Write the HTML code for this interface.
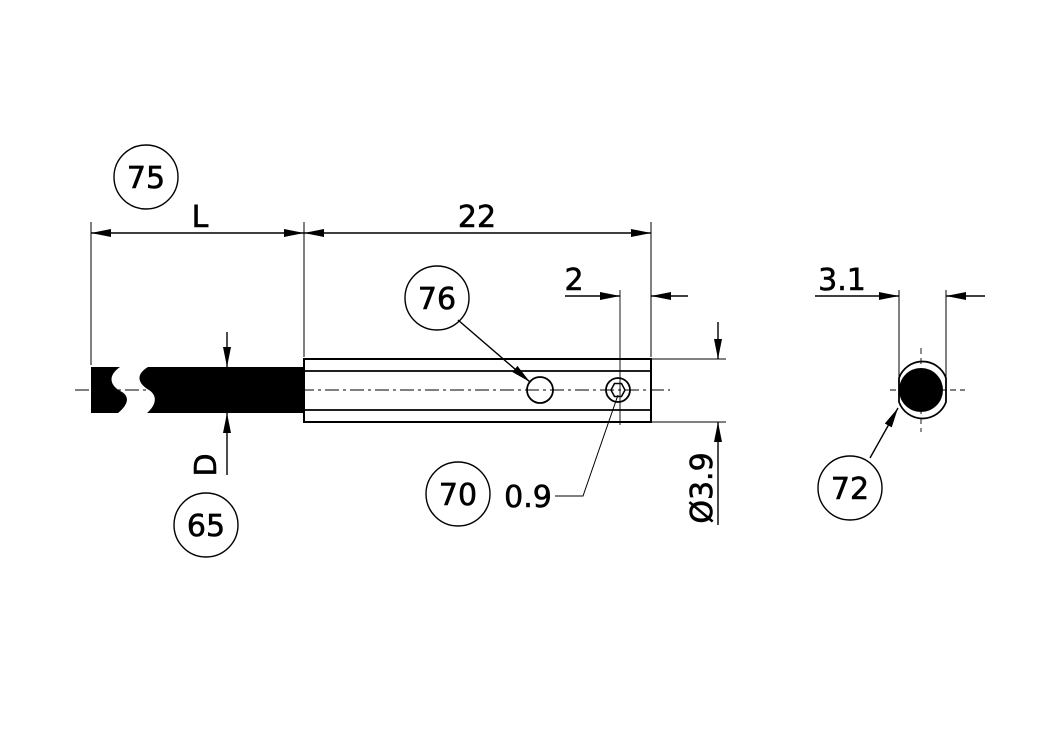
<!DOCTYPE html><html><head><style>body{margin:0;background:#fff}</style></head><body>
<svg width="1050" height="748" viewBox="0 0 1050 748" xmlns="http://www.w3.org/2000/svg" font-family="DejaVu Sans, Liberation Sans, sans-serif">
<defs><marker id="a" viewBox="0 0 10 4" refX="10" refY="2" markerWidth="20" markerHeight="8" markerUnits="userSpaceOnUse" orient="auto"><path d="M0,0L10,2L0,4z" fill="#000"/></marker></defs>
<g stroke="#000" fill="none" stroke-width="1.4">
<line x1="75" y1="390" x2="670" y2="390" stroke-dasharray="14,4,3,4" stroke-width="0.9"/>
<line x1="890" y1="390" x2="965" y2="390" stroke-dasharray="6,4" stroke-width="0.9"/>
<line x1="921" y1="348" x2="921" y2="432" stroke-dasharray="6,4" stroke-width="0.9"/>
<line x1="620" y1="290" x2="620" y2="425" stroke-width="0.9"/>
<path d="M91,367H120C107,376 110,386 122,392C130,397 128,405 118,413H91Z" fill="#000" stroke="none"/>
<path d="M148,367H304V413H147C156,405 158,396 149,390C137,383 136,374 148,367Z" fill="#000" stroke="none"/>
<rect x="304" y="359" width="347" height="63" stroke-width="2"/>
<line x1="304" y1="371" x2="651" y2="371" stroke-width="1.8"/>
<line x1="304" y1="410" x2="651" y2="410" stroke-width="1.8"/>
<circle cx="540" cy="390" r="13" stroke-width="1.8"/>
<circle cx="618" cy="390" r="12" stroke-width="1.8"/>
<path d="M611,390l3.5,-6.5h7l3.5,6.5l-3.5,6.5h-7z" stroke-width="1.5"/>
<line x1="91" y1="222" x2="91" y2="365" stroke-width="1"/>
<line x1="304" y1="222" x2="304" y2="357" stroke-width="1"/>
<line x1="651" y1="222" x2="651" y2="357" stroke-width="1"/>
<line x1="197" y1="233" x2="91" y2="233" marker-end="url(#a)"/>
<line x1="197" y1="233" x2="304" y2="233" marker-end="url(#a)"/>
<line x1="477" y1="233" x2="304" y2="233" marker-end="url(#a)"/>
<line x1="477" y1="233" x2="651" y2="233" marker-end="url(#a)"/>
<line x1="565" y1="296" x2="620" y2="296" marker-end="url(#a)"/>
<line x1="688" y1="296" x2="651" y2="296" marker-end="url(#a)"/>
<line x1="651" y1="359" x2="726" y2="359" stroke-width="1"/>
<line x1="651" y1="422" x2="726" y2="422" stroke-width="1"/>
<line x1="718" y1="322" x2="718" y2="359" marker-end="url(#a)"/>
<line x1="718" y1="525" x2="718" y2="422" marker-end="url(#a)"/>
<line x1="227" y1="332" x2="227" y2="367" marker-end="url(#a)"/>
<line x1="227" y1="475" x2="227" y2="413" marker-end="url(#a)"/>
<line x1="458" y1="320" x2="530" y2="382" marker-end="url(#a)"/>
<polyline points="555,496 583,496 618,395" stroke-width="1"/>
<circle cx="146" cy="177" r="32"/><circle cx="437" cy="298" r="32"/><circle cx="458" cy="494" r="32"/><circle cx="206" cy="525" r="32"/><circle cx="850" cy="488" r="32"/>
<path d="M899,378A25,25 0 0 1 946,378V402A25,25 0 0 1 899,402Z" stroke-width="1.8"/>
<circle cx="921" cy="390" r="22" fill="#000" stroke="none"/>
<line x1="899" y1="290" x2="899" y2="380" stroke-width="1"/>
<line x1="946" y1="290" x2="946" y2="380" stroke-width="1"/>
<line x1="815" y1="296" x2="899" y2="296" marker-end="url(#a)"/>
<line x1="985" y1="296" x2="946" y2="296" marker-end="url(#a)"/>
<line x1="870" y1="458" x2="898" y2="408" marker-end="url(#a)"/>
</g>
<g font-size="30" text-anchor="middle" fill="#000" stroke="#000" stroke-width="0.6">
<text x="146" y="188">75</text><text x="437" y="309">76</text><text x="458" y="505">70</text><text x="206" y="536">65</text><text x="850" y="499">72</text>
<text x="200" y="227">L</text><text x="477" y="227">22</text><text x="574" y="290">2</text><text x="842" y="290">3.1</text><text x="528" y="507">0.9</text>
<text transform="translate(712,488) rotate(-90)">Ø3.9</text>
<text transform="translate(216,465) rotate(-90)">D</text>
</g>
</svg></body></html>
